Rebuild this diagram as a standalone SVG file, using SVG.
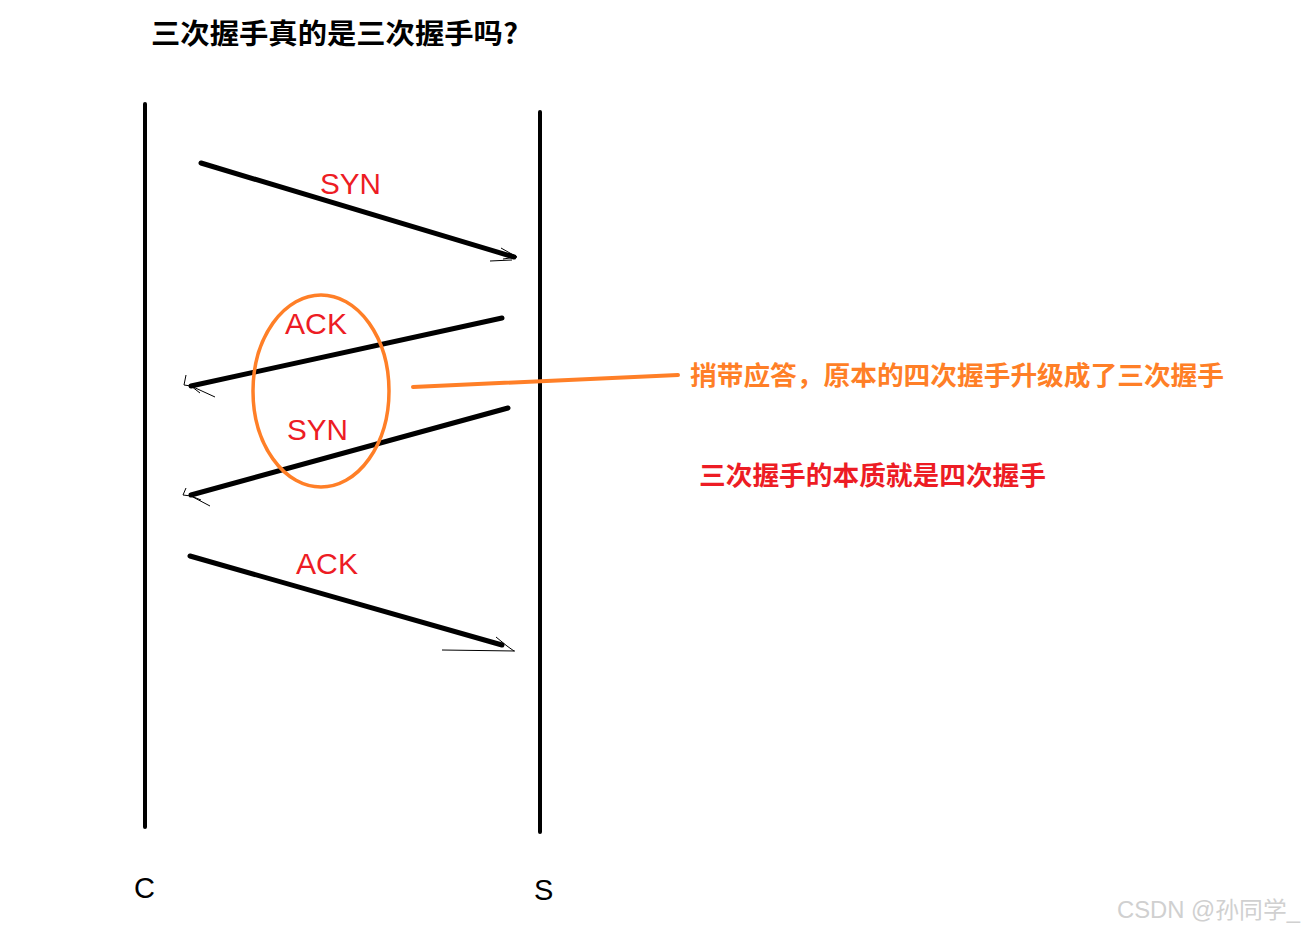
<svg xmlns="http://www.w3.org/2000/svg" width="1305" height="932" viewBox="0 0 1305 932">
<style>
.life{stroke:#000;stroke-width:4;stroke-linecap:round;fill:none}
.msg{stroke:#000;stroke-width:5;stroke-linecap:round;fill:none}
.head{stroke:#000;stroke-width:1;fill:none}
.lbl{font-family:"Liberation Sans",Arial,sans-serif;font-size:30px;fill:#ED1C24}
.cjk{font-family:"Noto Sans CJK SC",sans-serif;font-weight:bold}
.ax{font-family:"Liberation Sans",Arial,sans-serif;font-size:29px;fill:#000}
</style>
<rect width="1305" height="932" fill="#fff"/>
<g id="title"><text class="cjk" x="151" y="44" font-size="28" textLength="367" lengthAdjust="spacingAndGlyphs" fill="#000">三次握手真的是三次握手吗?</text></g>
<g id="client"><line class="life" x1="145" y1="104" x2="145" y2="827"/><text class="ax" x="134" y="898">C</text></g>
<g id="server"><line class="life" x1="540" y1="112" x2="540" y2="832"/><text class="ax" x="534" y="900">S</text></g>
<g id="connectors">
<line class="msg" x1="201" y1="163" x2="514" y2="257"/>
<path class="head" d="M501,248 L517,257 L503,259 M490,261 L512,260"/>
<line class="msg" x1="502" y1="318" x2="191" y2="386"/>
<path class="head" d="M186,375 L184,385 L191,386 L215,397 M191,386 L200,393"/>
<line class="msg" x1="508" y1="408" x2="191" y2="495"/>
<path class="head" d="M186,488 L183,495 L191,496 L210,506 M191,496 L201,500"/>
<line class="msg" x1="190" y1="556" x2="502" y2="645"/>
<path class="head" d="M496,637 L507,646 L514,651 M442,650 L515,651"/>
<line x1="413" y1="387" x2="678" y2="375" stroke="#FF7F27" stroke-width="4" stroke-linecap="round"/>
</g>
<g id="labels">
<text class="lbl" x="320" y="194" textLength="61" lengthAdjust="spacingAndGlyphs">SYN</text>
<text class="lbl" x="285" y="334" textLength="62" lengthAdjust="spacingAndGlyphs">ACK</text>
<text class="lbl" x="287" y="440" textLength="61" lengthAdjust="spacingAndGlyphs">SYN</text>
<text class="lbl" x="296" y="574" textLength="62" lengthAdjust="spacingAndGlyphs">ACK</text>
</g>
<g id="ellipse"><ellipse cx="321" cy="391" rx="68" ry="96" fill="none" stroke="#FF7F27" stroke-width="3.5"/></g>
<g id="note1"><text class="cjk" x="690" y="385" font-size="26" textLength="534" lengthAdjust="spacingAndGlyphs" fill="#FF7F27">捎带应答，原本的四次握手升级成了三次握手</text></g>
<g id="note2"><text class="cjk" x="699" y="485" font-size="26" textLength="347" lengthAdjust="spacingAndGlyphs" fill="#ED1C24">三次握手的本质就是四次握手</text></g>
<g id="watermark"><text x="1117" y="918" font-family="Liberation Sans,Noto Sans CJK SC,sans-serif" font-size="23" textLength="183" lengthAdjust="spacingAndGlyphs" fill="#d0d0d0">CSDN @孙同学_</text></g>
</svg>
